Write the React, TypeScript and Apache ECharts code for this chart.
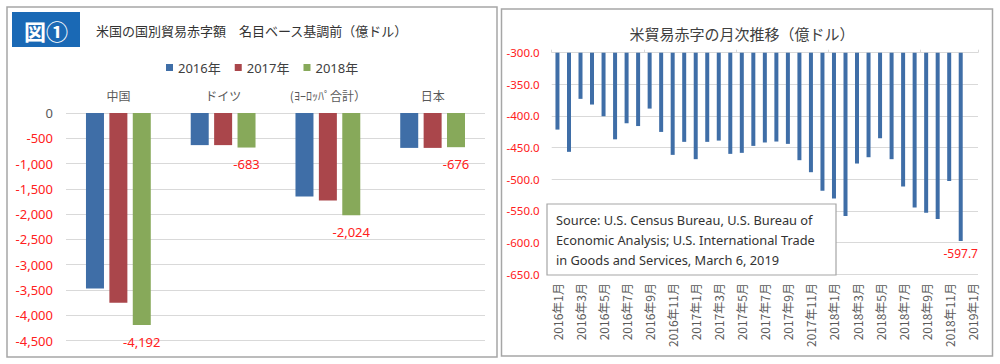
import { useEffect, useRef } from 'react';
import * as echarts from 'echarts';

const countries = ['中国', 'ドイツ', '(ﾖｰﾛｯﾊﾟ合計）', '日本'];
const years = ['2016年', '2017年', '2018年'];
const deficit2016 = [-3470, -635, -1650, -690];
const deficit2017 = [-3750, -635, -1730, -690];
const deficit2018 = [-4192, -683, -2024, -676];

const months = [
  '2016年1月', '2016年2月', '2016年3月', '2016年4月', '2016年5月', '2016年6月',
  '2016年7月', '2016年8月', '2016年9月', '2016年10月', '2016年11月', '2016年12月',
  '2017年1月', '2017年2月', '2017年3月', '2017年4月', '2017年5月', '2017年6月',
  '2017年7月', '2017年8月', '2017年9月', '2017年10月', '2017年11月', '2017年12月',
  '2018年1月', '2018年2月', '2018年3月', '2018年4月', '2018年5月', '2018年6月',
  '2018年7月', '2018年8月', '2018年9月', '2018年10月', '2018年11月', '2018年12月',
  '2019年1月',
];
const monthly = [
  -421.6, -456.8, -373.0, -382.0, -400.5, -437.0, -411.6, -416.0, -388.4, -425.3, -461.6, -441.0,
  -468.4, -441.0, -439.0, -460.0, -458.4, -447.4, -442.0, -440.5, -444.2, -470.0, -489.0, -518.4,
  -530.5, -558.4, -475.3, -465.3, -435.3, -468.4, -511.6, -544.7, -553.0, -563.0, -503.0, -597.7,
  null,
];

const sourceLines = [
  'Source: U.S. Census Bureau, U.S. Bureau of',
  'Economic Analysis; U.S. International Trade',
  'in Goods and Services, March 6, 2019',
];

const JP = '"Noto Sans CJK JP", "Noto Sans", sans-serif';
const NUM = '"Noto Sans", "Noto Sans CJK JP", sans-serif';
const colors = ['#3F6EA7', '#AA464B', '#87A95A'];
const gridColor = '#D9D9D9';

export default function App() {
  const ref = useRef<HTMLDivElement>(null);
  useEffect(() => {
    document.body.style.margin = '0';
    const chart = echarts.init(ref.current!, null, { renderer: 'svg' });
    const seriesLeft = [deficit2016, deficit2017, deficit2018].map((d, i) => ({
      name: years[i],
      type: 'bar',
      xAxisIndex: 0,
      yAxisIndex: 0,
      data: d,
      barWidth: 18,
      barGap: '30%',
      itemStyle: { color: colors[i] },
      label: i === 2
        ? {
            show: true,
            position: 'bottom',
            distance: 10,
            color: '#FF2020',
            fontSize: 13,
            fontFamily: NUM,
            formatter: (p: any) => Number(p.value).toLocaleString('en-US'),
          }
        : { show: false },
    }));
    const option: any = {
      animation: false,
      backgroundColor: '#fff',
      color: colors,
      legend: {
        data: years,
        left: 161,
        top: 56,
        icon: 'rect',
        itemWidth: 7,
        itemHeight: 7,
        itemGap: 14,
        textStyle: { fontSize: 13, color: '#404040', fontFamily: NUM },
      },
      grid: [
        { left: 66, top: 113, width: 419, height: 227.6 },
        { left: 551.7, top: 52.7, width: 426.3, height: 221.3 },
      ],
      xAxis: [
        {
          gridIndex: 0,
          type: 'category',
          data: countries,
          position: 'top',
          axisLine: { show: false },
          axisTick: { show: false },
          axisLabel: { color: '#595959', fontSize: 12, fontFamily: JP, margin: 12 },
        },
        {
          gridIndex: 1,
          type: 'category',
          data: months,
          position: 'bottom',
          axisLine: { show: false },
          axisTick: { show: false },
          axisLabel: {
            interval: 1,
            rotate: 90,
            color: '#595959',
            fontSize: 12,
            fontFamily: JP,
            margin: 9,
          },
        },
        {
          gridIndex: 1,
          type: 'category',
          data: months,
          position: 'top',
          axisLine: { show: false },
          axisTick: { show: true, length: 3, lineStyle: { color: gridColor } },
          axisLabel: { show: false },
        },
      ],
      yAxis: [
        {
          gridIndex: 0,
          type: 'value',
          min: -4500,
          max: 0,
          interval: 500,
          axisLine: { show: false },
          axisTick: { show: false },
          splitLine: { lineStyle: { color: gridColor, width: 1.2 } },
          axisLabel: {
            fontSize: 13,
            fontFamily: NUM,
            margin: 13,
            color: (v: any) => (Number(v) === 0 ? '#595959' : '#FF2020'),
            formatter: (v: number) => (v === 0 ? '0' : v.toLocaleString('en-US')),
          },
        },
        {
          gridIndex: 1,
          type: 'value',
          min: -650,
          max: -300,
          interval: 50,
          axisLine: { show: false },
          axisTick: { show: false },
          splitLine: { lineStyle: { color: gridColor, width: 1.2 } },
          axisLabel: {
            fontSize: 11.5,
            fontFamily: NUM,
            margin: 12,
            color: '#FF2020',
            formatter: (v: number) => v.toFixed(1),
          },
        },
      ],
      series: [
        ...seriesLeft,
        {
          name: 'monthly',
          type: 'bar',
          xAxisIndex: 1,
          yAxisIndex: 1,
          clip: true,
          barWidth: 4,
          itemStyle: { color: '#3F6EA7' },
          data: monthly.map((v, i) =>
            i === 35
              ? {
                  value: v,
                  label: {
                    show: true,
                    position: 'bottom',
                    distance: 7,
                    color: '#FF2020',
                    fontSize: 12,
                    fontFamily: NUM,
                    formatter: (p: any) => Number(p.value).toFixed(1),
                  },
                }
              : v
          ),
        },
      ],
      graphic: [
        { type: 'rect', shape: { x: 7, y: 7, width: 490, height: 350 }, style: { fill: 'none', stroke: '#A6A6A6', lineWidth: 1.5 }, z: 10 },
        { type: 'rect', shape: { x: 501.5, y: 9, width: 491, height: 347 }, style: { fill: 'none', stroke: '#A6A6A6', lineWidth: 1.5 }, z: 10 },
        { type: 'rect', shape: { x: 12, y: 12, width: 68, height: 35 }, style: { fill: '#1A69B5' }, z: 10 },
        {
          type: 'text', x: 46, y: 30, z: 11,
          style: { text: '図①', fill: '#fff', font: `bold 22px ${JP}`, align: 'center', verticalAlign: 'middle' },
        },
        {
          type: 'text', x: 96, y: 30, z: 11,
          style: { text: '米国の国別貿易赤字額　名目ベース基調前（億ドル）', fill: '#333', font: `13px ${JP}`, align: 'left', verticalAlign: 'middle' },
        },
        {
          type: 'text', x: 742, y: 33, z: 11,
          style: { text: '米貿易赤字の月次推移（億ドル）', fill: '#404040', font: `15px ${JP}`, align: 'center', verticalAlign: 'middle' },
        },
        { type: 'rect', shape: { x: 547, y: 204, width: 289, height: 71 }, style: { fill: '#fff', stroke: '#A6A6A6', lineWidth: 1.2 }, z: 10 },
        ...sourceLines.map((t, i) => ({
          type: 'text', x: 556, y: 220 + i * 20, z: 11,
          style: { text: t, fill: '#333', font: `12.8px ${NUM}`, align: 'left', verticalAlign: 'middle' },
        })),
      ],
    };
    chart.setOption(option);
    return () => chart.dispose();
  }, []);
  return <div ref={ref} style={{ width: 1000, height: 364 }} />;
}
